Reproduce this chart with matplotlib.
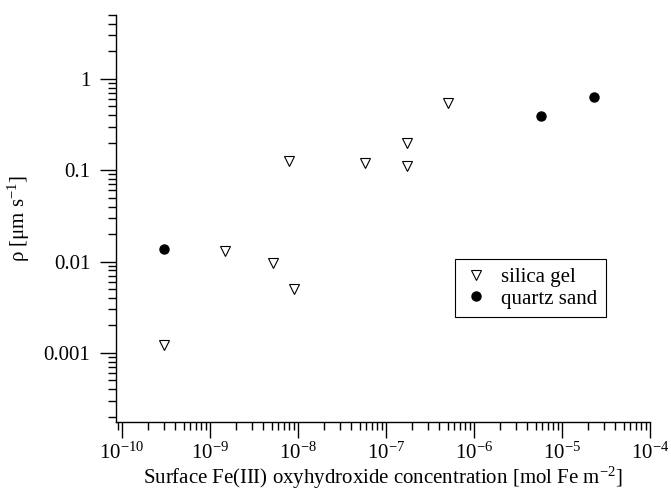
import math
import matplotlib
matplotlib.use("Agg")
import matplotlib.pyplot as plt
from matplotlib.ticker import LogLocator, FixedLocator, FuncFormatter, NullFormatter

# surface Fe(III) oxyhydroxide concentration [mol Fe m-2] and rate constant rho [um s-1]
silica_x = [3.0e-10, 1.5e-9, 5.2e-9, 9.0e-9, 7.8e-9, 5.7e-8, 1.75e-7, 1.75e-7, 5.0e-7]
silica_y = [0.00122, 0.0132, 0.0096, 0.0050, 0.126, 0.119, 0.198, 0.110, 0.54]
quartz_x = [3.0e-10, 5.8e-6, 2.33e-5]
quartz_y = [0.0136, 0.396, 0.64]

x_decades = [1e-10, 1e-9, 1e-8, 1e-7, 1e-6, 1e-5, 1e-4]
y_decades = [0.001, 0.01, 0.1, 1]

plt.rcParams['font.family'] = ['Liberation Serif', 'DejaVu Serif']
plt.rcParams['mathtext.fontset'] = 'custom'
plt.rcParams['mathtext.rm'] = 'Liberation Serif'
plt.rcParams['mathtext.it'] = 'Liberation Serif:italic'
plt.rcParams['font.size'] = 15

fig = plt.figure(figsize=(6.71, 4.93), dpi=100)
ax = fig.add_axes([0.1729, 0.144, 0.7958, 0.8256])
ax.set_xscale('log')
ax.set_yscale('log')

ax.plot(silica_x, silica_y, linestyle='none', marker='v', ms=7, mfc='white',
        mec='black', mew=0.8, label='silica gel')
ax.plot(quartz_x, quartz_y, linestyle='none', marker='o', ms=6.5, color='black',
        label='quartz sand')

ax.set_xlim(8.55e-11, 1e-4)
ax.set_ylim(1.75e-4, 5)

for s in ['top', 'right']:
    ax.spines[s].set_visible(False)
for s in ['left', 'bottom']:
    ax.spines[s].set_linewidth(1.0)

ax.xaxis.set_major_locator(FixedLocator(x_decades))
ax.xaxis.set_minor_locator(LogLocator(base=10, subs=range(2, 10), numticks=100))
ax.yaxis.set_major_locator(FixedLocator(y_decades))
ax.yaxis.set_minor_locator(LogLocator(base=10, subs=range(2, 10), numticks=100))
ax.xaxis.set_major_formatter(FuncFormatter(lambda v, p: r'$10^{%d}$' % round(math.log10(v))))
ax.yaxis.set_major_formatter(FuncFormatter(lambda v, p: '{:g}'.format(v)))
ax.xaxis.set_minor_formatter(NullFormatter())
ax.yaxis.set_minor_formatter(NullFormatter())

ax.tick_params(which='major', direction='out', length=11.5, width=1.0, labelsize=15)
ax.tick_params(which='minor', direction='out', length=5.5, width=1.0)
ax.tick_params(axis='x', which='major', pad=3)
ax.tick_params(axis='y', which='major', pad=7)

ax.set_xlabel('Surface Fe(III) oxyhydroxide concentration [mol Fe m$^{-2}$]', fontsize=15, labelpad=1)
ax.set_ylabel('ρ [μm s$^{-1}$]', fontsize=15, labelpad=8)

leg = ax.legend(loc='upper left', bbox_to_anchor=(0.635, 0.40), borderaxespad=0,
                fontsize=15, numpoints=1, handlelength=1.2, handletextpad=0.6,
                labelspacing=0.1, borderpad=0.4, fancybox=False, framealpha=1,
                edgecolor='black')
leg.get_frame().set_linewidth(0.8)

fig.savefig('out.png', dpi=100)
